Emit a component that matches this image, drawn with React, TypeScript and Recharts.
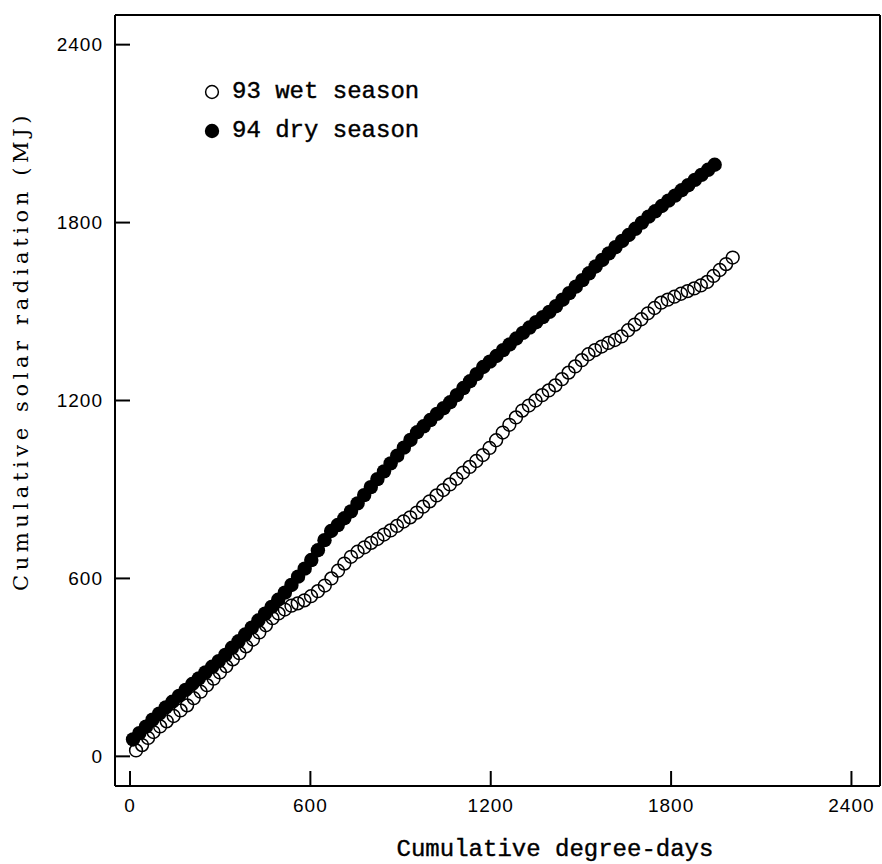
import { ScatterChart, Scatter, XAxis, YAxis } from 'recharts';

// 93 wet season (open circles)
const wetDegreeDays = [
  20, 40, 60, 78, 100, 122, 145, 168, 190, 212, 235, 256, 278, 299, 320, 342, 364, 386, 409,
  430, 452, 474, 494, 515, 537, 558, 580, 602, 625, 648, 670, 692, 713, 735, 757, 780, 802,
  823, 845, 867, 888, 910, 932, 954, 975, 997, 1020, 1042, 1064, 1086, 1108, 1130, 1152, 1174,
  1196, 1218, 1240, 1262, 1284, 1305, 1327, 1349, 1371, 1393, 1415, 1437, 1459, 1481, 1503,
  1525, 1547, 1569, 1591, 1613, 1635, 1657, 1679, 1701, 1723, 1745, 1767, 1789, 1811, 1833,
  1855, 1877, 1899, 1920, 1941, 1962, 1983, 2005,
];
const wetRadiation = [
  20, 38, 62, 82, 101, 118, 136, 155, 172, 196, 218, 240, 262, 283, 304, 327, 348, 371, 394,
  418, 442, 466, 482, 495, 508, 516, 526, 540, 557, 576, 600, 626, 650, 673, 690, 705, 720,
  733, 748, 762, 777, 792, 806, 822, 842, 860, 880, 898, 917, 936, 957, 976, 996, 1016,
  1040, 1066, 1092, 1118, 1143, 1166, 1183, 1200, 1218, 1234, 1251, 1272, 1294, 1315, 1336,
  1356, 1370, 1382, 1394, 1404, 1416, 1437, 1456, 1474, 1494, 1512, 1530, 1540, 1550, 1560,
  1569, 1578, 1588, 1600, 1620, 1640, 1660, 1682,
];

// 94 dry season (filled circles)
const dryDegreeDays = [
  10, 31, 53, 75, 97, 119, 141, 163, 185, 207, 229, 251, 273, 295, 317, 339, 361, 383, 405,
  427, 449, 471, 493, 515, 537, 559, 581, 603, 625, 647, 669, 691, 713, 735, 757, 779, 801,
  823, 845, 867, 889, 911, 933, 955, 977, 999, 1021, 1043, 1065, 1087, 1109, 1131, 1153,
  1175, 1197, 1219, 1241, 1263, 1285, 1307, 1329, 1351, 1373, 1395, 1417, 1439, 1461, 1483,
  1505, 1527, 1549, 1571, 1593, 1615, 1637, 1659, 1681, 1703, 1725, 1747, 1769, 1791, 1813,
  1835, 1857, 1879, 1901, 1923, 1945,
];
const dryRadiation = [
  57, 78, 100, 124, 144, 165, 184, 204, 224, 244, 263, 283, 302, 321, 342, 366, 388, 411, 434,
  458, 481, 504, 528, 552, 578, 606, 633, 662, 695, 729, 760, 780, 803, 826, 853, 881, 908,
  935, 961, 988, 1014, 1041, 1067, 1093, 1113, 1134, 1155, 1174, 1194, 1218, 1242, 1265, 1289,
  1313, 1331, 1350, 1370, 1389, 1409, 1428, 1446, 1464, 1481, 1499, 1518, 1540, 1562, 1584,
  1606, 1629, 1652, 1674, 1696, 1717, 1738, 1758, 1779, 1800, 1820, 1838, 1856, 1874, 1891,
  1909, 1926, 1944, 1961, 1978, 1995,
];

const xTicks = [0, 600, 1200, 1800, 2400];
const yTicks = [0, 600, 1200, 1800, 2400];
const seriesNames = ['93 wet season', '94 dry season'];

const X_DOMAIN = [-50, 2495];
const Y_DOMAIN = [-100, 2500];

const wetData = wetDegreeDays.map((x, i) => ({ x, y: wetRadiation[i] }));
const dryData = dryDegreeDays.map((x, i) => ({ x, y: dryRadiation[i] }));

const MONO = '"Liberation Mono", "DejaVu Sans Mono", monospace';
const tickStyle = { fill: '#000', fontSize: 19, fontFamily: '"Liberation Sans", Arial, sans-serif', letterSpacing: 1 };
const lineStyle = { stroke: '#000', strokeWidth: 2 };

const OPEN_R = 6.4;
const FILLED_R = 7.2;

const OpenDot = (props: any) => (
  <circle cx={props.cx} cy={props.cy} r={OPEN_R} fill="none" stroke="#000" strokeWidth={1.5} />
);
const FilledDot = (props: any) => <circle cx={props.cx} cy={props.cy} r={FILLED_R} fill="#000" />;

// legend drawn over the plot, top-left inside the frame
function SeasonLegend() {
  return (
    <div
      style={{
        position: 'absolute',
        left: 203,
        top: 72,
        fontFamily: MONO,
        fontSize: 24,
        color: '#000',
        lineHeight: '24px',
        WebkitTextStroke: '0.4px #000',
      }}
    >
      {seriesNames.map((name, i) => (
        <div key={name} style={{ display: 'flex', alignItems: 'center', height: 39 }}>
          <svg width={18} height={18} style={{ marginRight: 11 }}>
            {i === 0 ? (
              <circle cx={9} cy={9} r={OPEN_R} fill="none" stroke="#000" strokeWidth={1.5} />
            ) : (
              <circle cx={9} cy={9} r={FILLED_R} fill="#000" />
            )}
          </svg>
          <span>{name}</span>
        </div>
      ))}
    </div>
  );
}

const xTitle = () => (
  <text
    x={555}
    y={856}
    textAnchor="middle"
    fontFamily={MONO}
    fontSize={24}
    fill="#000"
    stroke="#000"
    strokeWidth={0.4}
  >
    Cumulative degree-days
  </text>
);

const yTitle = () => (
  <text
    x={21}
    y={351}
    transform="rotate(-90, 21, 351)"
    textAnchor="middle"
    dominantBaseline="central"
    fontFamily='"DejaVu Serif", serif'
    fontSize={21}
    letterSpacing={4.6}
    fill="#000"
  >
    Cumulative solar radiation (MJ)
  </text>
);

export default function App() {
  return (
    <div style={{ position: 'absolute', left: 0, top: 0, width: 882, height: 864, background: '#fff' }}>
      <ScatterChart width={882} height={864} margin={{ top: 0, right: 0, bottom: 0, left: 0 }}>
        <XAxis
          type="number"
          dataKey="x"
          domain={X_DOMAIN}
          ticks={xTicks}
          allowDataOverflow
          height={78}
          tickSize={-15}
          tickMargin={28}
          axisLine={lineStyle}
          tickLine={lineStyle}
          tick={tickStyle}
          label={xTitle}
        />
        <XAxis
          xAxisId="top"
          orientation="top"
          type="number"
          dataKey="x"
          domain={X_DOMAIN}
          ticks={xTicks}
          allowDataOverflow
          height={15}
          tickSize={-15}
          axisLine={lineStyle}
          tickLine={lineStyle}
          tick={false}
        />
        <YAxis
          type="number"
          dataKey="y"
          domain={Y_DOMAIN}
          ticks={yTicks}
          allowDataOverflow
          width={115}
          tickSize={-15}
          tickMargin={27}
          axisLine={lineStyle}
          tickLine={lineStyle}
          tick={tickStyle}
          label={yTitle}
        />
        <YAxis
          yAxisId="right"
          orientation="right"
          type="number"
          dataKey="y"
          domain={Y_DOMAIN}
          ticks={yTicks}
          allowDataOverflow
          width={2}
          tickSize={-12}
          axisLine={lineStyle}
          tickLine={lineStyle}
          tick={false}
        />
        <Scatter name={seriesNames[1]} data={dryData} shape={FilledDot} isAnimationActive={false} />
        <Scatter name={seriesNames[0]} data={wetData} shape={OpenDot} isAnimationActive={false} />
      </ScatterChart>
      <SeasonLegend />
    </div>
  );
}
